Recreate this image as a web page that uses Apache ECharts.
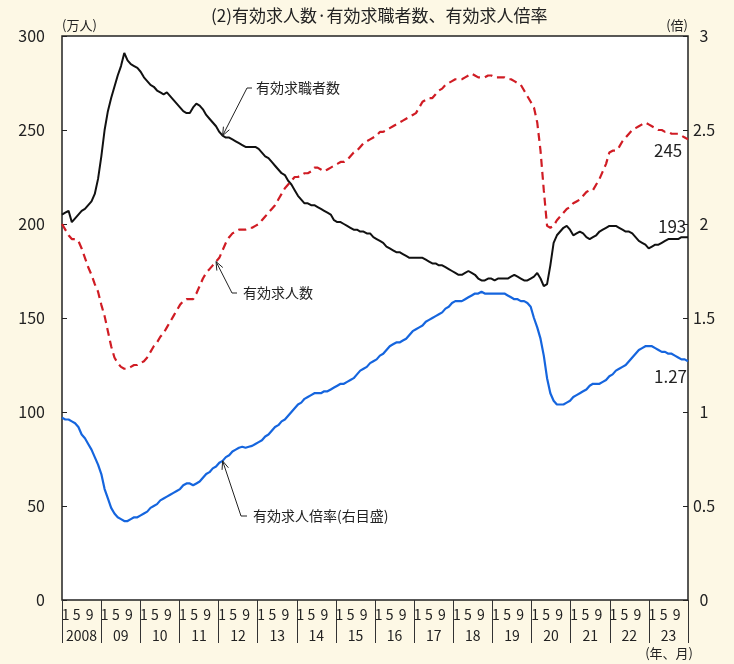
<!DOCTYPE html>
<html lang="ja">
	<head>
		<meta charset="UTF-8" />
		<title>有効求人数・有効求職者数、有効求人倍率</title>
		<script src="https://cdn.jsdelivr.net/npm/echarts@6/dist/echarts.min.js"></script>
		<style>
			* {
				margin: 0;
				padding: 0;
			}
			html,
			body {
				height: 100%;
				background: #fdf8e5;
			}
		</style>
	</head>
	<body>
		<div id="main" style="width:734px;height:664px;"></div>

		<script type="text/javascript">
			// 年ラベルと月の目盛
			var years = ["2008", "09", "10", "11", "12", "13", "14", "15", "16", "17", "18", "19", "20", "21", "22", "23"];
			var monthMarks = ["1", "5", "9"];

			// 有効求職者数（万人）
			var seekers = [
				205, 206, 207, 201, 203, 205, 207, 208, 210, 212, 216, 224, // 2008
				236, 250, 260, 267, 273, 279, 284, 291, 287, 285, 284, 283, // 2009
				281, 278, 276, 274, 273, 271, 270, 269, 270, 268, 266, 264, // 2010
				262, 260, 259, 259, 262, 264, 263, 261, 258, 256, 254, 252, // 2011
				249, 247, 246, 246, 245, 244, 243, 242, 241, 241, 241, 241, // 2012
				240, 238, 236, 235, 233, 231, 229, 227, 226, 223, 221, 218, // 2013
				215, 213, 211, 211, 210, 210, 209, 208, 207, 206, 205, 202, // 2014
				201, 201, 200, 199, 198, 197, 197, 196, 196, 195, 195, 193, // 2015
				192, 191, 190, 188, 187, 186, 185, 185, 184, 183, 182, 182, // 2016
				182, 182, 182, 181, 180, 179, 179, 178, 178, 177, 176, 175, // 2017
				174, 173, 173, 174, 175, 174, 173, 171, 170, 170, 171, 171, // 2018
				170, 171, 171, 171, 171, 172, 173, 172, 171, 170, 170, 171, // 2019
				172, 174, 171, 167, 168, 178, 190, 194, 196, 198, 199, 197, // 2020
				194, 195, 196, 195, 193, 192, 193, 194, 196, 197, 198, 199, // 2021
				199, 199, 198, 197, 196, 196, 195, 193, 191, 190, 189, 187, // 2022
				188, 189, 189, 190, 191, 192, 192, 192, 192, 193, 193, 193 // 2023
			];

			// 有効求人数（万人）
			var offers = [
				200, 197, 194, 192, 192, 191, 187, 182, 177, 173, 168, 164, // 2008
				157, 151, 143, 135, 129, 126, 124, 123, 123, 124, 125, 125, // 2009
				126, 127, 129, 132, 135, 137, 140, 142, 145, 148, 151, 154, // 2010
				157, 159, 160, 160, 160, 163, 167, 171, 174, 176, 178, 180, // 2011
				182, 186, 190, 193, 195, 196, 197, 197, 197, 198, 198, 199, // 2012
				200, 202, 204, 206, 208, 210, 213, 216, 219, 221, 223, 225, // 2013
				225, 226, 227, 227, 228, 230, 230, 229, 228, 229, 230, 231, // 2014
				232, 233, 233, 234, 236, 238, 239, 241, 243, 244, 245, 246, // 2015
				247, 249, 249, 250, 251, 252, 253, 254, 255, 256, 257, 258, // 2016
				259, 262, 265, 266, 267, 267, 269, 271, 272, 274, 275, 276, // 2017
				277, 277, 277, 278, 279, 280, 279, 278, 278, 278, 279, 279, // 2018
				278, 278, 278, 278, 277, 277, 276, 275, 274, 271, 268, 265, // 2019
				262, 254, 239, 218, 199, 198, 199, 202, 204, 206, 208, 209, // 2020
				211, 212, 213, 215, 217, 218, 218, 221, 224, 228, 232, 238, // 2021
				239, 239, 241, 244, 246, 248, 250, 251, 252, 253, 254, 253, // 2022
				252, 251, 250, 250, 249, 249, 248, 248, 248, 247, 246, 245 // 2023
			];

			// 有効求人倍率（倍、右目盛）
			var ratio = [
				0.97, 0.96, 0.96, 0.95, 0.94, 0.92, 0.88, 0.86, 0.83, 0.8, 0.76, 0.72, // 2008
				0.67, 0.59, 0.54, 0.49, 0.46, 0.44, 0.43, 0.42, 0.42, 0.43, 0.44, 0.44, // 2009
				0.45, 0.46, 0.47, 0.49, 0.5, 0.51, 0.53, 0.54, 0.55, 0.56, 0.57, 0.58, // 2010
				0.59, 0.61, 0.62, 0.62, 0.61, 0.62, 0.63, 0.65, 0.67, 0.68, 0.7, 0.71, // 2011
				0.73, 0.74, 0.76, 0.77, 0.79, 0.8, 0.81, 0.815, 0.81, 0.815, 0.82, 0.83, // 2012
				0.84, 0.85, 0.87, 0.88, 0.9, 0.92, 0.93, 0.95, 0.96, 0.98, 1.0, 1.02, // 2013
				1.04, 1.05, 1.07, 1.08, 1.09, 1.1, 1.1, 1.1, 1.11, 1.11, 1.12, 1.13, // 2014
				1.14, 1.15, 1.15, 1.16, 1.17, 1.18, 1.2, 1.22, 1.23, 1.24, 1.26, 1.27, // 2015
				1.28, 1.3, 1.31, 1.33, 1.35, 1.36, 1.37, 1.37, 1.38, 1.39, 1.41, 1.43, // 2016
				1.44, 1.45, 1.46, 1.48, 1.49, 1.5, 1.51, 1.52, 1.53, 1.55, 1.56, 1.58, // 2017
				1.59, 1.59, 1.59, 1.6, 1.61, 1.62, 1.63, 1.63, 1.64, 1.63, 1.63, 1.63, // 2018
				1.63, 1.63, 1.63, 1.63, 1.62, 1.61, 1.6, 1.6, 1.59, 1.59, 1.58, 1.56, // 2019
				1.5, 1.45, 1.39, 1.3, 1.18, 1.1, 1.06, 1.04, 1.04, 1.04, 1.05, 1.06, // 2020
				1.08, 1.09, 1.1, 1.11, 1.12, 1.14, 1.15, 1.15, 1.15, 1.16, 1.17, 1.19, // 2021
				1.2, 1.22, 1.23, 1.24, 1.25, 1.27, 1.29, 1.31, 1.33, 1.34, 1.35, 1.35, // 2022
				1.35, 1.34, 1.33, 1.32, 1.32, 1.31, 1.31, 1.3, 1.29, 1.28, 1.28, 1.27 // 2023
			];

			var FONT = "'Noto Sans CJK JP', 'Noto Sans', sans-serif";
			var NARROW = "'Liberation Sans Narrow', 'Noto Sans CJK JP', sans-serif";
			var INK = "#222";

			// 月次のカテゴリ（2008年1月〜2023年12月）
			var months = [];
			years.forEach(function(y, i) {
				for (var m = 1; m <= 12; m++) months.push(2008 + i + "-" + m);
			});
			// 1月・5月・9月の位置だけ表示
			var markIndex = { 0: monthMarks[0], 4: monthMarks[1], 8: monthMarks[2] };

			var option = {
				backgroundColor: "#fdf8e5",
				animation: false,
				textStyle: { fontFamily: FONT },
				title: [
					{
						text: "(2)有効求人数·有効求職者数、有効求人倍率",
						left: 211,
						top: 7,
						padding: 0,
						textStyle: { fontSize: 17, fontWeight: "normal", color: INK, fontFamily: FONT }
					},
					{
						text: "(年、月)",
						right: 41,
						top: 647,
						padding: 0,
						textStyle: { fontSize: 13, fontWeight: "normal", color: INK, fontFamily: FONT }
					}
				],
				grid: {
					left: 62,
					right: 46,
					top: 36,
					bottom: 64,
					show: true,
					backgroundColor: "#fff",
					borderColor: INK,
					borderWidth: 1.5
				},
				xAxis: [
					{
						type: "category",
						data: months,
						boundaryGap: false,
						axisLine: { show: false },
						axisTick: { show: false },
						axisLabel: { show: false },
						splitLine: { show: false }
					},
					{
						// 年の区切り線
						type: "category",
						data: years,
						position: "bottom",
						boundaryGap: true,
						axisLine: { show: false },
						axisTick: { show: true, interval: 0, length: 43, lineStyle: { color: "#333", width: 1 } },
						axisLabel: { show: false }
					},
					{
						// 年ラベル
						type: "category",
						data: years,
						position: "bottom",
						offset: 20,
						boundaryGap: true,
						axisLine: { show: false },
						axisTick: { show: false },
						axisLabel: { interval: 0, margin: 9, fontSize: 14, color: INK, fontFamily: NARROW }
					},
					{
						// 月ラベル「1 5 9」
						type: "category",
						data: months,
						position: "bottom",
						boundaryGap: true,
						axisLine: { show: false },
						axisTick: { show: false },
						axisLabel: {
							interval: function(i) {
								return markIndex[i % 12] !== undefined;
							},
							margin: 8,
							fontSize: 14,
							color: INK,
							fontFamily: NARROW,
							formatter: function(v, i) {
								var k = i % 12;
								return k === 0 ? "{j|" + markIndex[k] + "}" : markIndex[k];
							},
							rich: {
								j: { fontSize: 14, color: INK, fontFamily: NARROW, padding: [0, 0, 0, 4] }
							}
						}
					}
				],
				yAxis: [
					{
						type: "value",
						position: "left",
						min: 0,
						max: 300,
						interval: 50,
						name: "(万人)",
						nameLocation: "end",
						nameGap: 4,
						nameTextStyle: { align: "left", fontSize: 13, color: INK },
						axisLine: { show: false },
						axisTick: { show: true, inside: true, length: 5, lineStyle: { color: INK } },
						axisLabel: { fontSize: 16, color: INK, margin: 17 },
						splitLine: { show: false }
					},
					{
						type: "value",
						position: "right",
						min: 0,
						max: 3,
						interval: 0.5,
						name: "(倍)",
						nameLocation: "end",
						nameGap: 4,
						nameTextStyle: { align: "right", fontSize: 13, color: INK },
						axisLine: { show: false },
						axisTick: { show: true, inside: true, length: 5, lineStyle: { color: INK } },
						axisLabel: { fontSize: 16, color: INK, margin: 16, align: "center" },
						splitLine: { show: false }
					}
				],
				series: [
					{
						name: "有効求職者数",
						type: "line",
						xAxisIndex: 0,
						yAxisIndex: 0,
						data: seekers,
						symbol: "none",
						lineStyle: { color: "#111", width: 2 },
						endLabel: {
							show: true,
							fontSize: 17,
							color: INK,
							offset: [-38, -11],
							formatter: function(p) {
								return String(p.value);
							}
						}
					},
					{
						name: "有効求人数",
						type: "line",
						xAxisIndex: 0,
						yAxisIndex: 0,
						data: offers,
						symbol: "none",
						lineStyle: { color: "#d01c24", width: 2.2, type: [8, 5] },
						endLabel: {
							show: true,
							fontSize: 17,
							color: INK,
							offset: [-42, 11],
							formatter: function(p) {
								return String(p.value);
							}
						}
					},
					{
						name: "有効求人倍率",
						type: "line",
						xAxisIndex: 0,
						yAxisIndex: 1,
						data: ratio,
						symbol: "none",
						lineStyle: { color: "#1565de", width: 2.2 },
						endLabel: {
							show: true,
							fontSize: 17,
							color: INK,
							offset: [-42, 15],
							formatter: function(p) {
								return Number(p.value).toFixed(2);
							}
						}
					}
				]
			};

			var myChart = echarts.init(document.getElementById("main"));
			myChart.setOption(option);

			// 矢印付きの注記
			function arrowHead(tip, from) {
				var dx = tip[0] - from[0];
				var dy = tip[1] - from[1];
				var len = Math.sqrt(dx * dx + dy * dy);
				var bx = -dx / len;
				var by = -dy / len;
				var L = 9;
				var a = 0.38;
				function rot(t) {
					return [tip[0] + L * (bx * Math.cos(t) - by * Math.sin(t)), tip[1] + L * (bx * Math.sin(t) + by * Math.cos(t))];
				}
				return [rot(a), tip, rot(-a)];
			}
			function note(tip, corner, end, text, textX) {
				var line = { stroke: INK, lineWidth: 1, fill: null };
				return [
					{ type: "polyline", shape: { points: [end, corner, tip] }, style: line, z: 100 },
					{ type: "polyline", shape: { points: arrowHead(tip, corner) }, style: line, z: 100 },
					{
						type: "text",
						x: textX,
						y: corner[1],
						z: 100,
						style: {
							text: text,
							fontSize: 14,
							fontFamily: FONT,
							fill: INK,
							verticalAlign: "middle"
						}
					}
				];
			}

			var tipSeekers = myChart.convertToPixel({ seriesIndex: 0 }, [49, seekers[49]]);
			var tipOffers = myChart.convertToPixel({ seriesIndex: 1 }, [47, offers[47]]);
			var tipRatio = myChart.convertToPixel({ seriesIndex: 2 }, [49, ratio[49]]);

			myChart.setOption({
				graphic: []
					.concat(note(tipSeekers, [247, 88], [252, 88], "有効求職者数", 256))
					.concat(note(tipOffers, [232, 293], [237, 293], "有効求人数", 243))
					.concat(note(tipRatio, [241, 516], [247, 516], "有効求人倍率(右目盛)", 253))
			});
		</script>
	</body>
</html>
